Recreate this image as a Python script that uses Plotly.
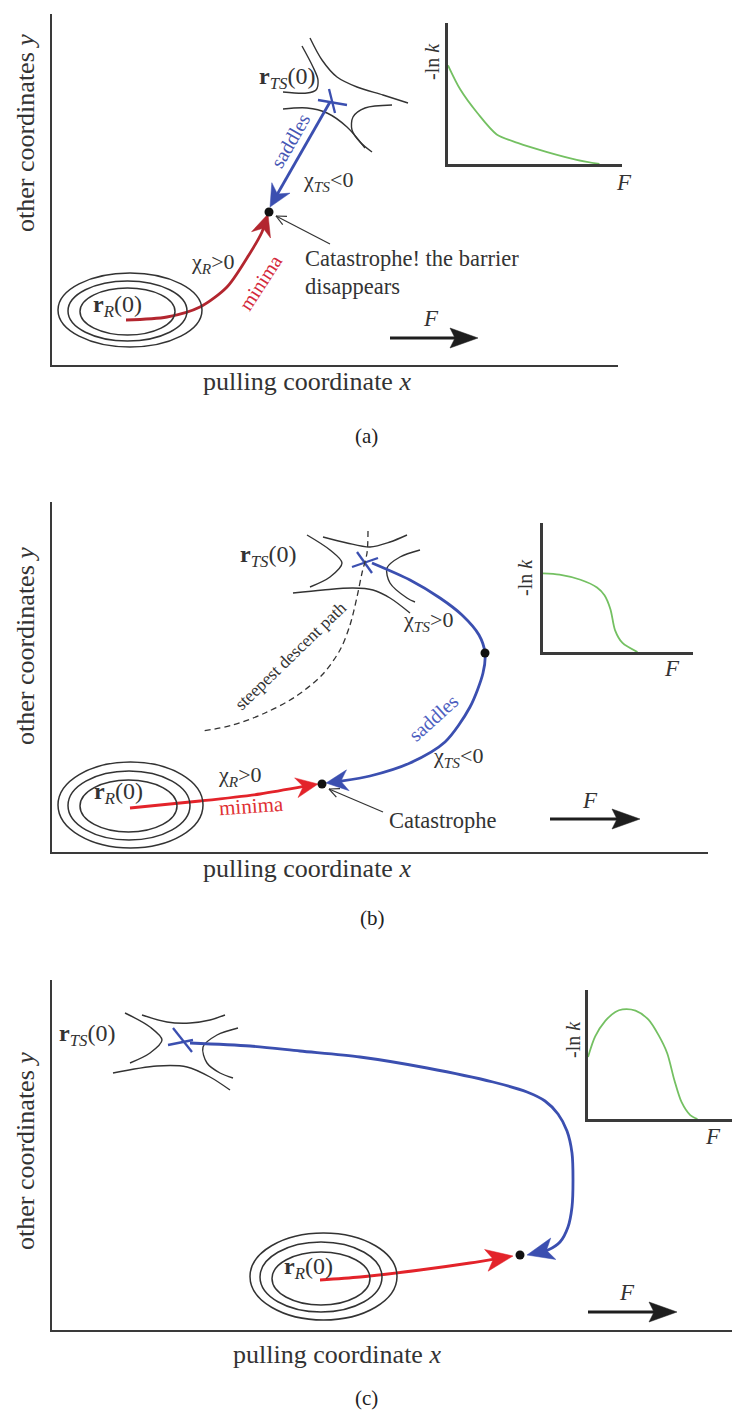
import math
import plotly.graph_objects as go

W, H = 732, 1421
FONT = "Liberation Serif, Times New Roman, serif"
INK = "#333333"
AXC = "#3a3a3a"
BLUE = "#3b4fb0"
RED_DARK = "#b3262f"
RED = "#e3232a"
GREEN = "#74c062"

# ---------- inset curves: -ln k against F (normalised units) ----------
F_a = [0, 0.07, 0.17, 0.28, 0.40, 0.57, 0.74, 0.87]
lnk_a = [0.70, 0.53, 0.36, 0.21, 0.15, 0.085, 0.03, 0.0]

F_b = [0, 0.11, 0.25, 0.36, 0.41, 0.45, 0.48, 0.53, 0.63]
lnk_b = [0.61, 0.60, 0.56, 0.50, 0.44, 0.33, 0.17, 0.07, 0.0]

F_c = [0, 0.05, 0.12, 0.19, 0.24, 0.33, 0.42, 0.49, 0.55, 0.60, 0.65, 0.71, 0.76]
lnk_c = [0.48, 0.64, 0.76, 0.83, 0.85, 0.84, 0.77, 0.65, 0.51, 0.30, 0.13, 0.03, 0.0]

# ---------- panel (a): paths and contours (x, y in pulling / other coordinates) ----------
minima_a_x = [126, 167, 200, 227, 247, 262, 268]
minima_a_y = [320, 317, 307, 287, 258, 232, 214]
saddles_a_x = [330, 270]
saddles_a_y = [102, 207]
dot_a = ([269], [212])
ellipses_a = [(58, 202, 273, 347), (68, 187, 281, 341), (80, 175, 288, 335)]
saddle_lines_a = [
    ([302, 313, 318, 316, 307, 283], [46, 67, 80, 90, 93, 92]),
    ([310, 322, 337, 357, 383, 408], [38, 60, 77, 87, 95, 103]),
    ([283, 307, 327, 347, 365], [109, 108, 113, 127, 148]),
    ([392, 365, 353, 352, 360, 372], [105, 108, 117, 130, 142, 152]),
]
cross_a = [([318, 347], [100, 105]), ([329, 335], [89, 113])]

# ---------- panel (b) ----------
minima_b_x = [130, 200, 260, 318]
minima_b_y = [808, 801, 794, 784]
saddles_b_x = [372, 410, 440, 462, 479, 485, 483, 470, 445, 410, 370, 342, 326]
saddles_b_y = [563, 580, 598, 615, 635, 653, 673, 707, 742, 763, 776, 781, 783]
dot_b = ([322, 485], [784, 653])
ellipses_b = [(58, 203, 762, 848), (68, 190, 771, 840), (80, 177, 780, 832)]
saddle_lines_b = [
    ([307, 330, 342, 330, 310], [535, 550, 563, 577, 587]),
    ([323, 347, 370, 390, 407], [537, 543, 547, 542, 535]),
    ([420, 400, 387, 390, 407, 415], [550, 557, 568, 583, 598, 602]),
    ([293, 323, 353, 373, 390, 410], [593, 590, 588, 590, 598, 613]),
]
cross_b = [([352, 378], [567, 558]), ([357, 372], [552, 573])]
descent_b_x = [368, 367, 362, 357, 350, 340, 322, 295, 265, 233, 203]
descent_b_y = [531, 553, 573, 597, 625, 650, 675, 697, 713, 725, 731]

# ---------- panel (c) ----------
minima_c_x = [320, 360, 420, 470, 513]
minima_c_y = [1280, 1277, 1270, 1263, 1256]
saddles_c_x = [190, 250, 300, 360, 427, 493, 527, 545, 558, 567, 572, 573, 572, 568, 560, 548, 527]
saddles_c_y = [1043, 1046, 1051, 1057, 1068, 1082, 1092, 1101, 1114, 1131, 1153, 1180, 1207, 1227, 1242, 1250, 1255]
dot_c = ([520], [1255])
ellipses_c = [(250, 397, 1233, 1320), (260, 382, 1242, 1312), (272, 370, 1252, 1305)]
saddle_lines_c = [
    ([125, 150, 162, 150, 130], [1013, 1027, 1040, 1053, 1063]),
    ([142, 167, 190, 210, 225], [1015, 1022, 1023, 1020, 1015]),
    ([238, 217, 203, 207, 220, 233], [1028, 1035, 1047, 1063, 1073, 1078]),
    ([113, 157, 187, 210, 230], [1073, 1066, 1067, 1077, 1090]),
]
cross_c = [([173, 192], [1028, 1052]), ([168, 193], [1045, 1040])]

# force arrows (tail, tip) per panel
force_a = ([390, 478], [338, 338])
force_b = ([550, 640], [819, 819])
force_c = ([588, 677], [1312, 1312])

fig = go.Figure()


def unit(x0, y0, x1, y1):
    dx, dy = x1 - x0, y1 - y0
    n = math.hypot(dx, dy)
    return dx / n, dy / n


def head(xa, ya, tx, ty, ux, uy, length, half, notch, color):
    px, py = -uy, ux
    bx, by = tx - length * ux, ty - length * uy
    hx = [tx, bx + half * px, tx - (length - notch) * ux, bx - half * px, tx]
    hy = [ty, by + half * py, ty - (length - notch) * uy, by - half * py, ty]
    fig.add_trace(go.Scatter(x=hx, y=hy, mode="lines", fill="toself", fillcolor=color,
                             line=dict(color=color, width=0.5), xaxis=xa, yaxis=ya,
                             hoverinfo="skip"))


def arrow_path(xa, ya, xs, ys, color, width, length, half, notch, smooth=True):
    tx, ty = xs[-1], ys[-1]
    ux, uy = unit(xs[-2], ys[-2], tx, ty)
    ex, ey = tx - 0.6 * length * ux, ty - 0.6 * length * uy
    fig.add_trace(go.Scatter(x=list(xs[:-1]) + [ex], y=list(ys[:-1]) + [ey], mode="lines",
                             line=dict(color=color, width=width,
                                       shape="spline" if smooth else "linear", smoothing=0.8),
                             xaxis=xa, yaxis=ya, hoverinfo="skip"))
    head(xa, ya, tx, ty, ux, uy, length, half, notch, color)


def curve(xa, ya, xs, ys, color=INK, width=1.4, dash=None):
    fig.add_trace(go.Scatter(x=xs, y=ys, mode="lines",
                             line=dict(color=color, width=width, shape="spline", smoothing=0.9,
                                       dash=dash),
                             xaxis=xa, yaxis=ya, hoverinfo="skip"))


def pointer(xa, ya, x0, y0, x1, y1):
    fig.add_trace(go.Scatter(x=[x0, x1], y=[y0, y1], mode="lines",
                             line=dict(color=INK, width=1.2), xaxis=xa, yaxis=ya, hoverinfo="skip"))
    ux, uy = unit(x0, y0, x1, y1)
    for s in (1, -1):
        a = math.radians(25) * s
        rx = ux * math.cos(a) - uy * math.sin(a)
        ry = ux * math.sin(a) + uy * math.cos(a)
        fig.add_trace(go.Scatter(x=[x1, x1 - 11 * rx], y=[y1, y1 - 11 * ry], mode="lines",
                                 line=dict(color=INK, width=1.2), xaxis=xa, yaxis=ya,
                                 hoverinfo="skip"))


def dots(xa, ya, pts):
    fig.add_trace(go.Scatter(x=pts[0], y=pts[1], mode="markers",
                             marker=dict(color="#111111", size=9), xaxis=xa, yaxis=ya,
                             hoverinfo="skip"))


annotations = []
shapes = []


def txt(x, y, text, size=21, color=INK, angle=0, xanchor="center"):
    # page position in pixels -> paper fraction
    annotations.append(dict(x=x / W, y=1 - y / H, xref="paper", yref="paper", text=text,
                            showarrow=False, textangle=angle, xanchor=xanchor,
                            yanchor="middle",
                            font=dict(family=FONT, size=size, color=color)))


def ellipse(xa, ya, box):
    x0, x1, y0, y1 = box
    shapes.append(dict(type="circle", xref=xa, yref=ya, x0=x0, x1=x1, y0=y0, y1=y1,
                       line=dict(color=INK, width=1.5)))


RR = "<b>r</b><sub><i>R</i></sub>(0)"
RTS = "<b>r</b><sub><i>TS</i></sub>(0)"
LNK = "-ln <i>k</i>"
YT = "other coordinates <i>y</i>"
XT = "pulling coordinate <i>x</i>"

panels = [
    dict(xa="x", ya="y", ia="x4", iy="y4",
         ell=ellipses_a, sad=saddle_lines_a, cross=cross_a,
         minima=(minima_a_x, minima_a_y), red=RED_DARK,
         saddles=(saddles_a_x, saddles_a_y), dots=dot_a, force=force_a,
         F=F_a, lnk=lnk_a),
    dict(xa="x2", ya="y2", ia="x5", iy="y5",
         ell=ellipses_b, sad=saddle_lines_b, cross=cross_b,
         minima=(minima_b_x, minima_b_y), red=RED,
         saddles=(saddles_b_x, saddles_b_y), dots=dot_b, force=force_b,
         F=F_b, lnk=lnk_b),
    dict(xa="x3", ya="y3", ia="x6", iy="y6",
         ell=ellipses_c, sad=saddle_lines_c, cross=cross_c,
         minima=(minima_c_x, minima_c_y), red=RED,
         saddles=(saddles_c_x, saddles_c_y), dots=dot_c, force=force_c,
         F=F_c, lnk=lnk_c),
]

for i, p in enumerate(panels):
    xa, ya = p["xa"], p["ya"]
    for box in p["ell"]:
        ellipse(xa, ya, box)
    for xs, ys in p["sad"]:
        curve(xa, ya, xs, ys)
    big = i == 2
    arrow_path(xa, ya, p["minima"][0], p["minima"][1], p["red"], 2.8,
               27 if big else 22, 11 if big else 10, 7)
    arrow_path(xa, ya, p["saddles"][0], p["saddles"][1], BLUE, 2.8,
               27 if big else 22, 11 if big else 10.5, 7)
    for xs, ys in p["cross"]:
        fig.add_trace(go.Scatter(x=xs, y=ys, mode="lines", line=dict(color=BLUE, width=2.3),
                                 xaxis=xa, yaxis=ya, hoverinfo="skip"))
    dots(xa, ya, p["dots"])
    fx, fy = p["force"]
    arrow_path(xa, ya, fx, fy, "#1e1e1e", 3, 28, 10, 5, smooth=False)
    # inset: -ln k versus F
    fig.add_trace(go.Scatter(x=p["F"], y=p["lnk"], mode="lines",
                             line=dict(color=GREEN, width=1.8, shape="spline", smoothing=0.8),
                             xaxis=p["ia"], yaxis=p["iy"], hoverinfo="skip"))

# steepest descent path in panel (b)
curve("x2", "y2", descent_b_x, descent_b_y, color="#333333", width=1.3, dash="6px,4px")

# catastrophe pointers
pointer("x", "y", 330, 244, 276, 216)
pointer("x2", "y2", 383, 812, 329, 789)

# ---------- text: panel (a) ----------
txt(25, 133, YT, 26, angle=-90)
txt(307, 381, XT, 26)
txt(117, 306, RR, 24)
txt(287, 78, RTS, 24)
txt(290, 141, "saddles", 20, color="#4656b4", angle=-60)
txt(328, 181, "χ<sub><i>TS</i></sub>&lt;0", 22)
txt(213, 263, "χ<sub><i>R</i></sub>&gt;0", 22)
txt(260, 283, "minima", 20, color="#d42a3c", angle=-57)
txt(303, 258, "Catastrophe! the barrier", 22.5, xanchor="left")
txt(303, 287, "disappears", 22.5, xanchor="left")
txt(431, 318, "<i>F</i>", 23)
txt(432, 62, LNK, 20, angle=-90)
txt(624, 182, "<i>F</i>", 23)

# ---------- text: panel (b) ----------
txt(25, 646, YT, 26, angle=-90)
txt(307, 868, XT, 26)
txt(118, 793, RR, 24)
txt(268, 556, RTS, 24)
txt(290, 656, "steepest descent path", 17.5, angle=-44)
txt(428, 621, "χ<sub><i>TS</i></sub>&gt;0", 22)
txt(433, 718, "saddles", 20, color="#4e60bf", angle=-42)
txt(458, 757, "χ<sub><i>TS</i></sub>&lt;0", 22)
txt(240, 776, "χ<sub><i>R</i></sub>&gt;0", 22)
txt(251, 806, "minima", 21, color="#e03033", angle=-4)
txt(387, 820, "Catastrophe", 22.5, xanchor="left")
txt(590, 800, "<i>F</i>", 23)
txt(525, 578, LNK, 20, angle=-90)
txt(672, 668, "<i>F</i>", 23)

# ---------- text: panel (c) ----------
txt(25, 1151, YT, 26, angle=-90)
txt(337, 1354, XT, 26)
txt(308, 1268, RR, 24)
txt(87, 1035, RTS, 24)
txt(627, 1292, "<i>F</i>", 23)
txt(573, 1040, LNK, 20, angle=-90)
txt(713, 1136, "<i>F</i>", 23)

# panel captions
txt(366, 436, "(a)", 21, color="#222222")
txt(373, 918, "(b)", 21, color="#222222")
txt(366, 1398, "(c)", 21, color="#222222")


def dom_x(a, b):
    return [a / W, b / W]


def dom_y(top, bottom):
    return [1 - bottom / H, 1 - top / H]


def axis(domain, rng, anchor, lw=2):
    return dict(domain=domain, range=rng, anchor=anchor, autorange=False,
                showgrid=False, zeroline=False, showticklabels=False, ticks="",
                showline=True, linecolor=AXC, linewidth=lw, fixedrange=True)


main = [(52, 618, 14, 365), (52, 708, 502, 852), (52, 732, 980, 1330)]
insets = [(448, 622, 23, 164), (543, 693, 523, 652), (588, 732, 990, 1119)]

layout_axes = {}
for k, (x0, x1, y0, y1) in enumerate(main):
    n = "" if k == 0 else str(k + 1)
    layout_axes["xaxis" + n] = axis(dom_x(x0, x1), [x0, x1], "y" + n)
    layout_axes["yaxis" + n] = axis(dom_y(y0, y1), [y1, y0], "x" + n)
for k, (x0, x1, y0, y1) in enumerate(insets):
    n = str(k + 4)
    layout_axes["xaxis" + n] = axis(dom_x(x0, x1), [0, 1], "y" + n, lw=2.5)
    layout_axes["yaxis" + n] = axis(dom_y(y0, y1), [0, 1], "x" + n, lw=2.5)

fig.update_layout(
    width=W, height=H,
    margin=dict(l=0, r=0, t=0, b=0),
    paper_bgcolor="white", plot_bgcolor="rgba(0,0,0,0)",
    showlegend=False,
    annotations=annotations, shapes=shapes,
    **layout_axes,
)

fig.write_html("out.html")
